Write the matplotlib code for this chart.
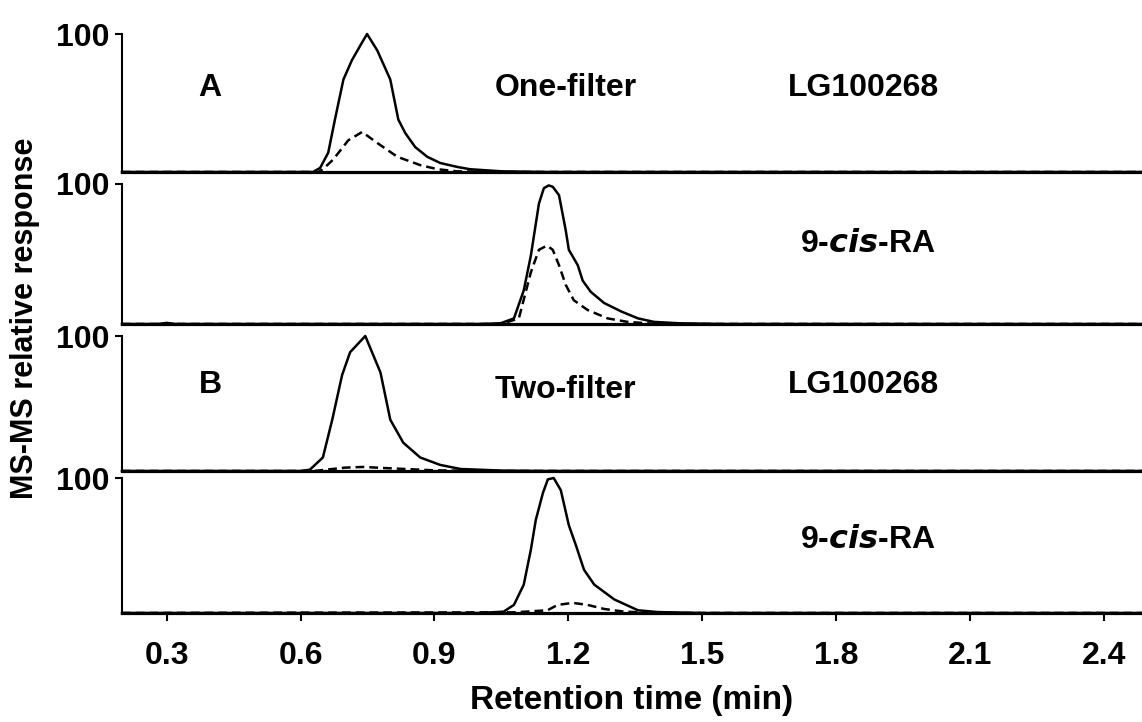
import numpy as np
import matplotlib
matplotlib.use("Agg")
import matplotlib.pyplot as plt

plt.rcParams['font.family'] = ['Liberation Sans', 'DejaVu Sans']
plt.rcParams['font.weight'] = 'bold'

# LG100268, one-filter (panel A top)
lg1_x = [0.20, 0.60, 0.628, 0.644, 0.662, 0.677, 0.696, 0.715, 0.738, 0.749, 0.772, 0.801,
         0.819, 0.835, 0.857, 0.884, 0.913, 0.952, 0.98, 1.05, 1.15, 2.50]
lg1_solid = [0, 0, 0, 3, 14, 38, 67, 81, 94, 100, 88, 67, 38, 28, 18, 11, 6.5, 3.6, 2, 0.5, 0, 0]
lg1_dash_x = [0.20, 0.60, 0.64, 0.65, 0.673, 0.707, 0.738, 0.772, 0.817, 0.868, 0.907, 0.95, 1.05, 2.50]
lg1_dash = [0, 0, 0, 2, 9, 23, 29, 21, 11, 5, 2, 0.5, 0, 0]

# 9-cis-RA, one-filter
ra1_x = [0.20, 0.28, 0.30, 0.32, 1.00, 1.048, 1.078, 1.10, 1.116, 1.134, 1.145, 1.156, 1.165,
         1.179, 1.194, 1.201, 1.221, 1.232, 1.25, 1.28, 1.318, 1.356, 1.392, 1.45, 1.55, 2.50]
ra1_solid = [0, 0, 0.8, 0, 0, 0.5, 4, 24, 49, 86, 97, 99, 98, 92, 67, 53, 42, 31, 23, 15,
             9, 4, 1.5, 0.5, 0, 0]
ra1_dash_x = [0.20, 1.05, 1.089, 1.116, 1.134, 1.152, 1.165, 1.179, 1.194, 1.212, 1.243,
              1.288, 1.333, 1.40, 2.50]
ra1_dash = [0, 0, 4, 37, 53, 56, 53, 42, 28, 17, 10, 4, 1.5, 0, 0]

# LG100268, two-filter (panel B top)
lg2_x = [0.20, 0.60, 0.621, 0.65, 0.671, 0.693, 0.711, 0.745, 0.779, 0.801, 0.83, 0.868,
         0.913, 0.958, 1.05, 1.15, 2.50]
lg2_solid = [0, 0, 1, 10, 38, 71, 88, 100, 73, 38, 21, 10, 4.5, 1.5, 0.3, 0, 0]
lg2_dash_x = [0.20, 0.63, 0.70, 0.74, 0.80, 0.90, 1.00, 2.50]
lg2_dash = [0, 0, 2.5, 3, 2, 0.5, 0, 0]

# 9-cis-RA, two-filter
ra2_x = [0.20, 1.00, 1.055, 1.078, 1.10, 1.116, 1.127, 1.143, 1.154, 1.167, 1.183, 1.201,
         1.217, 1.235, 1.258, 1.303, 1.356, 1.40, 1.50, 2.50]
ra2_solid = [0, 0, 1, 6, 21, 47, 69, 89, 99, 100, 91, 65, 50, 32, 21, 10, 2, 0.7, 0, 0]
ra2_dash_x = [0.20, 1.08, 1.153, 1.176, 1.21, 1.243, 1.28, 1.325, 1.40, 2.50]
ra2_dash = [0, 0.5, 2, 6, 7.5, 6, 3, 1, 0, 0]

xticks = [0.3, 0.6, 0.9, 1.2, 1.5, 1.8, 2.1, 2.4]

panels = [
    (lg1_x, lg1_solid, lg1_dash_x, lg1_dash),
    (ra1_x, ra1_solid, ra1_dash_x, ra1_dash),
    (lg2_x, lg2_solid, lg2_dash_x, lg2_dash),
    (ra2_x, ra2_solid, ra2_dash_x, ra2_dash),
]
# (top, bottom) of each panel in figure pixels
boxes = [(34, 172), (184, 324), (336, 471), (478, 613)]

W, H = 1142, 722
fig = plt.figure(figsize=(W / 100, H / 100), dpi=100)
left = 122 / W
axes = []
for (top, bot), (sx, sy, dx, dy) in zip(boxes, panels):
    ax = fig.add_axes([left, 1 - bot / H, 1 - left, (bot - top) / H])
    ax.plot(sx, sy, color='black', lw=1.8, clip_on=False, zorder=3)
    ax.plot(dx, dy, color='black', lw=1.8, linestyle=(0, (3.5, 2)), clip_on=False, zorder=3)
    ax.set_xlim(0.2, 2.485)
    ax.set_ylim(0, 100)
    ax.spines['top'].set_visible(False)
    ax.spines['right'].set_visible(False)
    ax.spines['left'].set_linewidth(1.5)
    ax.spines['bottom'].set_linewidth(2.3)
    ax.set_yticks([100])
    ax.set_yticklabels(['100'], fontsize=23, fontweight='bold')
    ax.tick_params(axis='y', length=5, width=1.5, pad=4)
    ax.set_xticks(xticks)
    ax.tick_params(axis='x', length=6, width=1.5, pad=14)
    ax.patch.set_alpha(0)
    axes.append(ax)

for ax in axes[:-1]:
    ax.tick_params(axis='x', bottom=False, labelbottom=False)
axes[-1].set_xticklabels([f'{t:.1f}' for t in xticks], fontsize=23, fontweight='bold')
axes[-1].set_xlabel('Retention time (min)', fontsize=24, fontweight='bold', labelpad=10)

tk = dict(fontsize=23, fontweight='bold', ha='center', va='center')
axes[0].text(0.397, 61, 'A', **tk)
axes[0].text(1.194, 61, 'One-filter', **tk)
axes[0].text(1.86, 61, 'LG100268', **tk)
axes[1].text(1.87, 57, '9-$\\mathbfit{cis}$-RA', **tk)
axes[2].text(0.397, 64, 'B', **tk)
axes[2].text(1.194, 60, 'Two-filter', **tk)
axes[2].text(1.86, 64, 'LG100268', **tk)
axes[3].text(1.87, 54, '9-$\\mathbfit{cis}$-RA', **tk)

fig.text(25 / W, 1 - 318 / H, 'MS-MS relative response', rotation=90, fontsize=22,
         fontweight='bold', ha='center', va='center')

fig.savefig('out.png', dpi=100)
